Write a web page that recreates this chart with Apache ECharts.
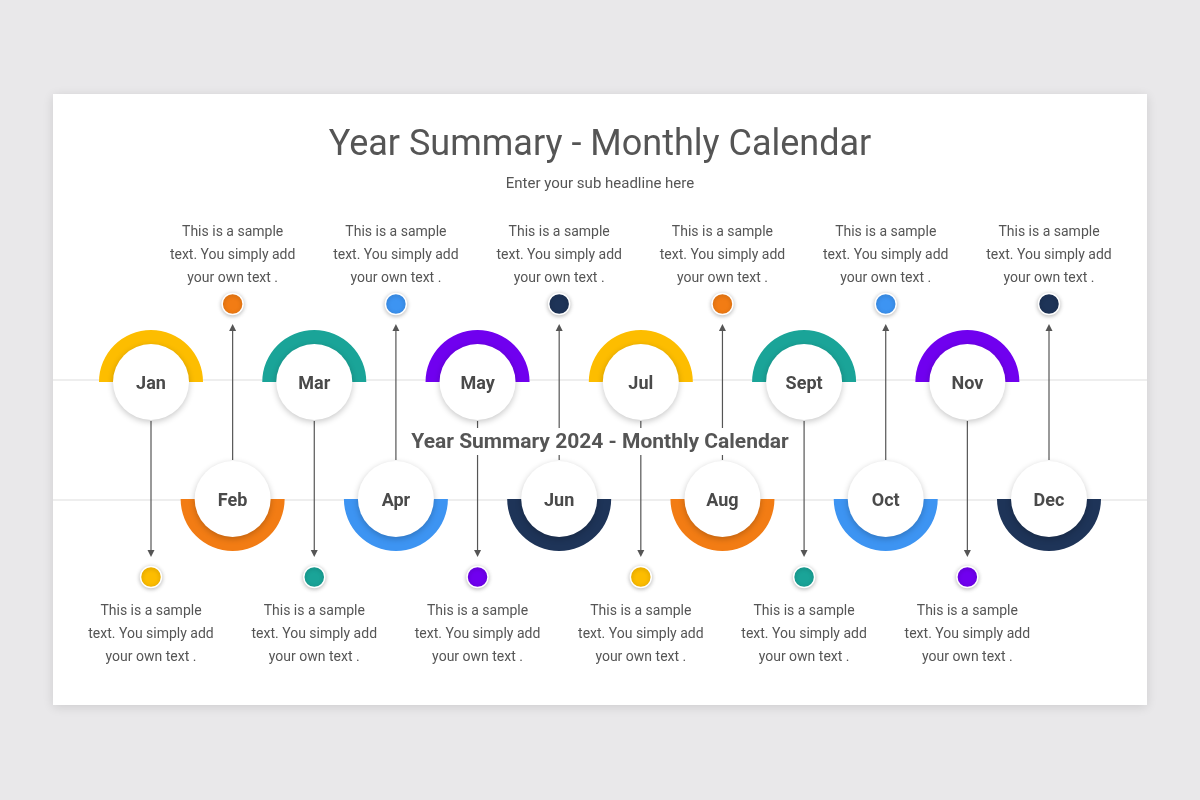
<!DOCTYPE html>
<html>
<head>
<meta charset="utf-8">
<script src="https://cdn.jsdelivr.net/npm/echarts@6/dist/echarts.min.js"></script>
<style>
  html, body { margin: 0; padding: 0; background: #e9e8ea; }
  #main { width: 1200px; height: 800px; }
</style>
</head>
<body>
<div id="main"></div>
<script>
// month labels, which row each sits on (1 = upper, 0 = lower), ring colours
var months = ['Jan', 'Feb', 'Mar', 'Apr', 'May', 'Jun', 'Jul', 'Aug', 'Sept', 'Oct', 'Nov', 'Dec'];
var rows = [1, 0, 1, 0, 1, 0, 1, 0, 1, 0, 1, 0];
var colors = ['#fdbd00', '#f27c14', '#1aa498', '#3d94f2', '#7000ef', '#1e3458',
              '#fdbd00', '#f27c14', '#1aa498', '#3d94f2', '#7000ef', '#1e3458'];
var noteLines = ['This is a sample', 'text. You simply add', 'your own text .'];

var title = 'Year Summary - Monthly Calendar';
var subTitle = 'Enter your sub headline here';
var centerTitle = 'Year Summary 2024 - Monthly Calendar';

var font = 'Roboto, "Noto Sans", sans-serif';
var textColor = '#555555';

var chart = echarts.init(document.getElementById('main'));

function renderMonth(params, api) {
    var i = api.value(0);
    var row = api.value(1);
    var p = api.coord([i, row]);
    var cx = p[0], cy = p[1];
    var color = colors[i];
    var up = row === 1;
    var children = [];

    // coloured half ring
    children.push({
        type: 'sector',
        shape: {
            cx: cx, cy: cy, r0: 37, r: 52,
            startAngle: up ? Math.PI : 0,
            endAngle: up ? Math.PI * 2 : Math.PI,
            clockwise: true
        },
        style: { fill: color }
    });

    // connector line with arrow towards the dot
    var dir = up ? 1 : -1;
    var y0 = cy + dir * 39;
    var y1 = up ? 557 : 324;
    children.push({
        type: 'line',
        shape: { x1: cx, y1: y0, x2: cx, y2: y1 - dir * 3 },
        style: { stroke: '#555', lineWidth: 1.2 }
    });
    children.push({
        type: 'polygon',
        shape: { points: [[cx - 3.5, y1 - dir * 7], [cx + 3.5, y1 - dir * 7], [cx, y1]] },
        style: { fill: '#555' }
    });

    // white disc with soft shadow
    children.push({
        type: 'circle',
        shape: { cx: cx, cy: cy, r: 38 },
        style: {
            fill: '#fff',
            shadowBlur: 6, shadowColor: 'rgba(0,0,0,0.22)', shadowOffsetY: 2
        }
    });
    children.push({
        type: 'text',
        style: {
            x: cx, y: cy + 2, text: months[i],
            align: 'center', verticalAlign: 'middle',
            font: 'bold 18px ' + font, fill: '#4a4a4a'
        }
    });

    // dot
    var dotY = up ? 577 : 304;
    children.push({
        type: 'circle',
        shape: { cx: cx, cy: dotY, r: 10.5 },
        style: {
            fill: color, stroke: '#fff', lineWidth: 1.5,
            shadowBlur: 4, shadowColor: 'rgba(0,0,0,0.25)', shadowOffsetY: 1
        }
    });

    // note text
    var ty = up ? 611 : 232;
    for (var k = 0; k < noteLines.length; k++) {
        children.push({
            type: 'text',
            style: {
                x: cx, y: ty + k * 23, text: noteLines[k],
                align: 'center', verticalAlign: 'middle',
                font: '14px ' + font, fill: textColor
            }
        });
    }
    return { type: 'group', children: children };
}

var seriesData = months.map(function (m, i) { return [i, rows[i]]; });

chart.setOption({
    backgroundColor: '#e9e8ea',
    animation: false,
    graphic: [
        {
            type: 'rect', z: -10,
            shape: { x: 53, y: 94, width: 1094, height: 611 },
            style: { fill: '#fff', shadowBlur: 10, shadowColor: 'rgba(0,0,0,0.12)', shadowOffsetY: 2 }
        },
        {
            type: 'rect', z: -9,
            shape: { x: 53, y: 379, width: 1094, height: 2 },
            style: { fill: '#eeeeee' }
        },
        {
            type: 'rect', z: -9,
            shape: { x: 53, y: 499, width: 1094, height: 2 },
            style: { fill: '#eeeeee' }
        },
        {
            type: 'text', z: 10,
            style: {
                x: 600, y: 146, text: title, align: 'center', verticalAlign: 'middle',
                font: '36px ' + font, fill: textColor
            }
        },
        {
            type: 'text', z: 10,
            style: {
                x: 600, y: 184, text: subTitle, align: 'center', verticalAlign: 'middle',
                font: '15px ' + font, fill: textColor
            }
        },
        {
            type: 'rect', z: 100,
            shape: { x: 400, y: 428, width: 400, height: 27 },
            style: { fill: '#fff' }
        },
        {
            type: 'text', z: 101,
            style: {
                x: 600, y: 443, text: centerTitle, align: 'center', verticalAlign: 'middle',
                font: 'bold 21px ' + font, fill: textColor
            }
        }
    ],
    grid: { left: 151, right: 151, top: 382, bottom: 301 },
    xAxis: { type: 'value', min: 0, max: 11, show: false },
    yAxis: { type: 'value', min: 0, max: 1, show: false },
    series: [{
        type: 'custom',
        renderItem: renderMonth,
        data: seriesData,
        z: 5
    }]
});
</script>
</body>
</html>
